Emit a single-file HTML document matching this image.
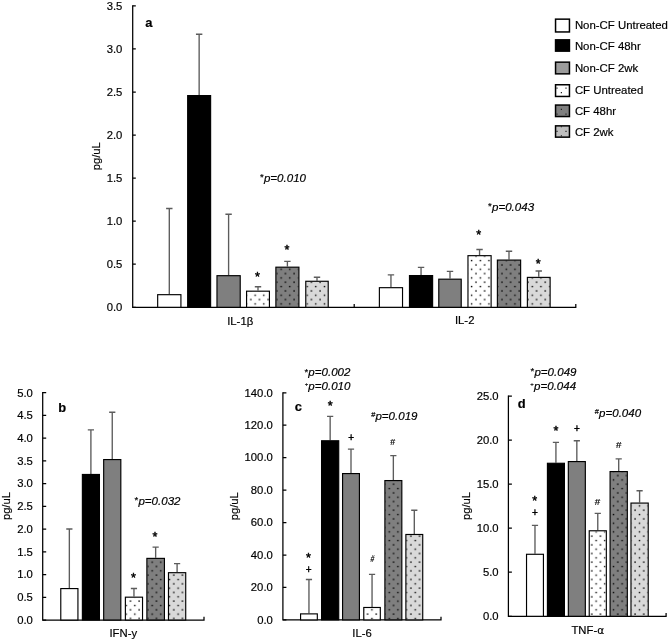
<!DOCTYPE html>
<html lang="en">
<head>
<meta charset="utf-8">
<title>Cytokine levels</title>
<style>
html,body{margin:0;padding:0;background:#fff;}
body{width:668px;height:641px;overflow:hidden;}
svg{display:block;}
text{font-family:"Liberation Sans",sans-serif;font-size:11.3px;fill:#000;stroke:#000;stroke-width:0.18px;}
text.b{font-weight:bold;font-size:12.9px;fill:#000;}
text.it{font-style:italic;font-size:11.55px;}
text.ma{font-size:9.6px;}
text.mp{font-size:6px;}
text.mh{font-size:7.4px;}
text.ast{font-size:12.6px;stroke:#000;stroke-width:0.45px;}
text.tl{font-size:11.28px;}
text.at{font-size:11.2px;}
text.lg{font-size:11.4px;}
text.hash2{font-size:8.8px;}
tspan.al{font-family:"DejaVu Sans",sans-serif;font-size:10.6px;}
text.plus{font-size:10px;stroke:#000;stroke-width:0.4px;}
text.hash{font-size:9.8px;stroke:#000;stroke-width:0.2px;}
</style>
</head>
<body>
<svg width="668" height="641" viewBox="0 0 668 641">
<rect width="668" height="641" fill="#fff"/>
<defs><pattern id="dotsa" width="8.66" height="8.66" patternUnits="userSpaceOnUse" patternTransform="translate(274.80 271.60)"><rect x="1.300" y="1.300" width="1.4" height="1.4" fill="#000"/><rect x="5.630" y="5.630" width="1.4" height="1.4" fill="#000"/></pattern><pattern id="dotsb" width="8.66" height="8.66" patternUnits="userSpaceOnUse" patternTransform="translate(128.50 599.15)"><rect x="1.300" y="1.300" width="1.4" height="1.4" fill="#000"/><rect x="5.630" y="5.630" width="1.4" height="1.4" fill="#000"/></pattern><pattern id="dotsc" width="8.66" height="8.66" patternUnits="userSpaceOnUse" patternTransform="translate(365.60 612.15)"><rect x="1.300" y="1.300" width="1.4" height="1.4" fill="#000"/><rect x="5.630" y="5.630" width="1.4" height="1.4" fill="#000"/></pattern><pattern id="dotsd" width="8.66" height="8.66" patternUnits="userSpaceOnUse" patternTransform="translate(589.80 612.15)"><rect x="1.300" y="1.300" width="1.4" height="1.4" fill="#000"/><rect x="5.630" y="5.630" width="1.4" height="1.4" fill="#000"/></pattern></defs>
<path d="M132.70 5.28V307.30H575.80V304.10" stroke="#000" stroke-width="1.25" fill="none" stroke-linejoin="miter"/><path d="M132.70 307.30h3.1M132.70 264.24h3.1M132.70 221.19h3.1M132.70 178.13h3.1M132.70 135.07h3.1M132.70 92.01h3.1M132.70 48.96h3.1M132.70 5.90h3.1M354.20 307.30v-3.2" stroke="#000" stroke-width="1.25" fill="none"/>
<text x="122.40" y="311.10" text-anchor="end" class="tl" >0.0</text><text x="122.40" y="268.04" text-anchor="end" class="tl" >0.5</text><text x="122.40" y="224.99" text-anchor="end" class="tl" >1.0</text><text x="122.40" y="181.93" text-anchor="end" class="tl" >1.5</text><text x="122.40" y="138.87" text-anchor="end" class="tl" >2.0</text><text x="122.40" y="95.81" text-anchor="end" class="tl" >2.5</text><text x="122.40" y="52.76" text-anchor="end" class="tl" >3.0</text><text x="122.40" y="9.70" text-anchor="end" class="tl" >3.5</text>
<path d="M169.30 294.10V208.50M166.10 208.50H172.50" stroke="#5c5c5c" stroke-width="1.35" fill="none"/><rect x="157.67" y="294.68" width="23.25" height="12.62" fill="#ffffff" stroke="#000" stroke-width="1.15"/>
<path d="M199.15 95.00V34.20M195.95 34.20H202.35" stroke="#5c5c5c" stroke-width="1.35" fill="none"/><rect x="187.67" y="95.58" width="22.95" height="211.73" fill="#000000" stroke="#000" stroke-width="1.15"/>
<path d="M228.60 275.10V214.20M225.40 214.20H231.80" stroke="#5c5c5c" stroke-width="1.35" fill="none"/><rect x="216.97" y="275.68" width="23.25" height="31.62" fill="#7f7f7f" stroke="#000" stroke-width="1.15"/>
<path d="M258.00 290.60V286.70M254.80 286.70H261.20" stroke="#5c5c5c" stroke-width="1.35" fill="none"/><rect x="246.57" y="291.18" width="22.85" height="16.12" fill="#ffffff" stroke="#000" stroke-width="1.15"/><rect x="247.15" y="291.75" width="21.70" height="15.55" fill="url(#dotsa)"/>
<path d="M287.40 266.60V261.40M284.20 261.40H290.60" stroke="#5c5c5c" stroke-width="1.35" fill="none"/><rect x="275.88" y="267.18" width="23.05" height="40.12" fill="#7f7f7f" stroke="#000" stroke-width="1.15"/><rect x="276.45" y="267.75" width="21.90" height="39.55" fill="url(#dotsa)"/>
<path d="M317.00 280.70V277.20M313.80 277.20H320.20" stroke="#5c5c5c" stroke-width="1.35" fill="none"/><rect x="305.77" y="281.27" width="22.45" height="26.03" fill="#d9d9d9" stroke="#000" stroke-width="1.15"/><rect x="306.35" y="281.85" width="21.30" height="25.45" fill="url(#dotsa)"/>
<path d="M390.95 287.10V274.90M387.75 274.90H394.15" stroke="#5c5c5c" stroke-width="1.35" fill="none"/><rect x="379.38" y="287.68" width="23.15" height="19.62" fill="#ffffff" stroke="#000" stroke-width="1.15"/>
<path d="M421.05 275.00V267.40M417.85 267.40H424.25" stroke="#5c5c5c" stroke-width="1.35" fill="none"/><rect x="409.47" y="275.57" width="23.15" height="31.73" fill="#000000" stroke="#000" stroke-width="1.15"/>
<path d="M450.00 278.60V271.40M446.80 271.40H453.20" stroke="#5c5c5c" stroke-width="1.35" fill="none"/><rect x="438.77" y="279.18" width="22.45" height="28.12" fill="#7f7f7f" stroke="#000" stroke-width="1.15"/>
<path d="M479.55 255.10V249.50M476.35 249.50H482.75" stroke="#5c5c5c" stroke-width="1.35" fill="none"/><rect x="467.97" y="255.67" width="23.15" height="51.63" fill="#ffffff" stroke="#000" stroke-width="1.15"/><rect x="468.55" y="256.25" width="22.00" height="51.05" fill="url(#dotsa)"/>
<path d="M509.00 259.50V251.20M505.80 251.20H512.20" stroke="#5c5c5c" stroke-width="1.35" fill="none"/><rect x="497.38" y="260.07" width="23.25" height="47.23" fill="#7f7f7f" stroke="#000" stroke-width="1.15"/><rect x="497.95" y="260.65" width="22.10" height="46.65" fill="url(#dotsa)"/>
<path d="M538.75 276.80V271.00M535.55 271.00H541.95" stroke="#5c5c5c" stroke-width="1.35" fill="none"/><rect x="527.38" y="277.38" width="22.75" height="29.93" fill="#d9d9d9" stroke="#000" stroke-width="1.15"/><rect x="527.95" y="277.95" width="21.60" height="29.35" fill="url(#dotsa)"/>
<text x="145.30" y="26.50" text-anchor="start" class="b" >a</text>
<text x="100.00" y="156.30" text-anchor="middle" class="at" transform="rotate(-90 100.0 156.3)">pg/uL</text>
<text x="240.20" y="324.70" text-anchor="middle" class="" >IL-1β</text>
<text x="464.70" y="324.40" text-anchor="middle" class="" >IL-2</text>
<text x="263.75" y="180.00" text-anchor="end" class="ma">*</text><text x="263.95" y="181.80" class="it">p=0.010</text>
<text x="491.80" y="209.25" text-anchor="end" class="ma">*</text><text x="492.00" y="211.05" class="it">p=0.043</text>
<text x="257.50" y="280.60" text-anchor="middle" class="ast" >*</text>
<text x="287.05" y="254.25" text-anchor="middle" class="ast" >*</text>
<text x="478.80" y="238.70" text-anchor="middle" class="ast" >*</text>
<text x="538.20" y="267.50" text-anchor="middle" class="ast" >*</text>
<rect x="555.55" y="19.15" width="13.90" height="12.80" fill="#ffffff" stroke="#000" stroke-width="1.5"/>
<text x="574.90" y="29.30" text-anchor="start" class="lg" >Non-CF Untreated</text>
<rect x="555.55" y="39.85" width="13.90" height="11.30" fill="#000000" stroke="#000" stroke-width="1.5"/>
<text x="574.90" y="50.40" text-anchor="start" class="lg" >Non-CF 48hr</text>
<rect x="555.55" y="62.15" width="13.90" height="11.70" fill="#9c9c9c" stroke="#000" stroke-width="1.5"/>
<text x="574.90" y="72.40" text-anchor="start" class="lg" >Non-CF 2wk</text>
<rect x="555.55" y="84.75" width="13.90" height="11.70" fill="#ffffff" stroke="#000" stroke-width="1.5"/>
<path d="M560.80 92.00h1.2v1.2h-1.2zM565.40 87.60h1.2v1.2h-1.2zM556.40 87.60h1.2v1.2h-1.2z" fill="#222"/>
<text x="574.90" y="94.20" text-anchor="start" class="lg" >CF Untreated</text>
<rect x="555.55" y="105.05" width="13.90" height="11.50" fill="#7f7f7f" stroke="#000" stroke-width="1.5"/>
<path d="M560.80 108.80h1.2v1.2h-1.2zM565.40 113.60h1.2v1.2h-1.2zM556.40 113.60h1.2v1.2h-1.2z" fill="#222"/>
<text x="574.90" y="114.70" text-anchor="start" class="lg" >CF 48hr</text>
<rect x="555.55" y="125.85" width="13.90" height="11.30" fill="#bfbfbf" stroke="#000" stroke-width="1.5"/>
<path d="M560.80 126.00h1.2v1.2h-1.2zM565.40 130.80h1.2v1.2h-1.2zM556.40 130.80h1.2v1.2h-1.2zM560.80 135.30h1.2v1.2h-1.2z" fill="#222"/>
<text x="574.90" y="135.70" text-anchor="start" class="lg" >CF 2wk</text>
<path d="M42.70 392.07V620.00H204.00V616.80" stroke="#000" stroke-width="1.25" fill="none" stroke-linejoin="miter"/><path d="M42.70 620.00h3.5M42.70 597.27h3.5M42.70 574.54h3.5M42.70 551.81h3.5M42.70 529.08h3.5M42.70 506.35h3.5M42.70 483.62h3.5M42.70 460.89h3.5M42.70 438.16h3.5M42.70 415.43h3.5M42.70 392.70h3.5" stroke="#000" stroke-width="1.25" fill="none"/>
<text x="32.90" y="623.80" text-anchor="end" class="tl" >0.0</text><text x="32.90" y="601.07" text-anchor="end" class="tl" >0.5</text><text x="32.90" y="578.34" text-anchor="end" class="tl" >1.0</text><text x="32.90" y="555.61" text-anchor="end" class="tl" >1.5</text><text x="32.90" y="532.88" text-anchor="end" class="tl" >2.0</text><text x="32.90" y="510.15" text-anchor="end" class="tl" >2.5</text><text x="32.90" y="487.42" text-anchor="end" class="tl" >3.0</text><text x="32.90" y="464.69" text-anchor="end" class="tl" >3.5</text><text x="32.90" y="441.96" text-anchor="end" class="tl" >4.0</text><text x="32.90" y="419.23" text-anchor="end" class="tl" >4.5</text><text x="32.90" y="396.50" text-anchor="end" class="tl" >5.0</text>
<path d="M69.35 588.00V529.00M66.25 529.00H72.45" stroke="#5c5c5c" stroke-width="1.35" fill="none"/><rect x="60.78" y="588.58" width="17.15" height="31.43" fill="#ffffff" stroke="#000" stroke-width="1.15"/>
<path d="M90.90 473.90V429.80M87.80 429.80H94.00" stroke="#5c5c5c" stroke-width="1.35" fill="none"/><rect x="82.38" y="474.47" width="17.05" height="145.53" fill="#000000" stroke="#000" stroke-width="1.15"/>
<path d="M112.25 459.00V412.20M109.15 412.20H115.35" stroke="#5c5c5c" stroke-width="1.35" fill="none"/><rect x="103.67" y="459.57" width="17.15" height="160.43" fill="#7f7f7f" stroke="#000" stroke-width="1.15"/>
<path d="M133.95 596.60V588.50M130.85 588.50H137.05" stroke="#5c5c5c" stroke-width="1.35" fill="none"/><rect x="125.38" y="597.18" width="17.15" height="22.82" fill="#ffffff" stroke="#000" stroke-width="1.15"/><rect x="125.95" y="597.75" width="16.00" height="22.25" fill="url(#dotsb)"/>
<path d="M155.65 557.80V547.10M152.55 547.10H158.75" stroke="#5c5c5c" stroke-width="1.35" fill="none"/><rect x="146.88" y="558.38" width="17.55" height="61.63" fill="#7f7f7f" stroke="#000" stroke-width="1.15"/><rect x="147.45" y="558.95" width="16.40" height="61.05" fill="url(#dotsb)"/>
<path d="M177.10 572.10V563.60M174.00 563.60H180.20" stroke="#5c5c5c" stroke-width="1.35" fill="none"/><rect x="168.47" y="572.68" width="17.25" height="47.32" fill="#d9d9d9" stroke="#000" stroke-width="1.15"/><rect x="169.05" y="573.25" width="16.10" height="46.75" fill="url(#dotsb)"/>
<text x="58.20" y="412.20" text-anchor="start" class="b" >b</text>
<text x="10.10" y="506.10" text-anchor="middle" class="at" transform="rotate(-90 10.1 506.1)">pg/uL</text>
<text x="123.30" y="636.80" text-anchor="middle" class="" >IFN-y</text>
<text x="138.25" y="503.05" text-anchor="end" class="ma">*</text><text x="138.45" y="504.85" class="it">p=0.032</text>
<text x="133.40" y="582.10" text-anchor="middle" class="ast" >*</text>
<text x="154.95" y="541.20" text-anchor="middle" class="ast" >*</text>
<path d="M282.90 392.18V619.90H441.00V616.70" stroke="#000" stroke-width="1.25" fill="none" stroke-linejoin="miter"/><path d="M282.90 619.90h3.5M282.90 587.46h3.5M282.90 555.01h3.5M282.90 522.57h3.5M282.90 490.13h3.5M282.90 457.69h3.5M282.90 425.24h3.5M282.90 392.80h3.5" stroke="#000" stroke-width="1.25" fill="none"/>
<text x="272.80" y="623.70" text-anchor="end" class="tl" >0.0</text><text x="272.80" y="591.26" text-anchor="end" class="tl" >20.0</text><text x="272.80" y="558.81" text-anchor="end" class="tl" >40.0</text><text x="272.80" y="526.37" text-anchor="end" class="tl" >60.0</text><text x="272.80" y="493.93" text-anchor="end" class="tl" >80.0</text><text x="272.80" y="461.49" text-anchor="end" class="tl" >100.0</text><text x="272.80" y="429.04" text-anchor="end" class="tl" >120.0</text><text x="272.80" y="396.60" text-anchor="end" class="tl" >140.0</text>
<path d="M308.95 613.30V579.50M305.85 579.50H312.05" stroke="#5c5c5c" stroke-width="1.35" fill="none"/><rect x="300.57" y="613.88" width="16.75" height="6.03" fill="#ffffff" stroke="#000" stroke-width="1.15"/>
<path d="M330.15 440.20V416.40M327.05 416.40H333.25" stroke="#5c5c5c" stroke-width="1.35" fill="none"/><rect x="321.57" y="440.77" width="17.15" height="179.12" fill="#000000" stroke="#000" stroke-width="1.15"/>
<path d="M351.00 473.00V449.10M347.90 449.10H354.10" stroke="#5c5c5c" stroke-width="1.35" fill="none"/><rect x="342.57" y="473.57" width="16.85" height="146.32" fill="#7f7f7f" stroke="#000" stroke-width="1.15"/>
<path d="M372.05 606.90V574.40M368.95 574.40H375.15" stroke="#5c5c5c" stroke-width="1.35" fill="none"/><rect x="363.77" y="607.48" width="16.55" height="12.43" fill="#ffffff" stroke="#000" stroke-width="1.15"/><rect x="364.35" y="608.05" width="15.40" height="11.85" fill="url(#dotsc)"/>
<path d="M393.35 480.00V455.60M390.25 455.60H396.45" stroke="#5c5c5c" stroke-width="1.35" fill="none"/><rect x="384.88" y="480.57" width="16.95" height="139.32" fill="#7f7f7f" stroke="#000" stroke-width="1.15"/><rect x="385.45" y="481.15" width="15.80" height="138.75" fill="url(#dotsc)"/>
<path d="M414.30 533.90V510.20M411.20 510.20H417.40" stroke="#5c5c5c" stroke-width="1.35" fill="none"/><rect x="405.88" y="534.48" width="16.85" height="85.42" fill="#d9d9d9" stroke="#000" stroke-width="1.15"/><rect x="406.45" y="535.05" width="15.70" height="84.85" fill="url(#dotsc)"/>
<text x="294.80" y="410.70" text-anchor="start" class="b" >c</text>
<text x="238.30" y="506.20" text-anchor="middle" class="at" transform="rotate(-90 238.3 506.2)">pg/uL</text>
<text x="362.00" y="636.80" text-anchor="middle" class="" >IL-6</text>
<text x="308.15" y="374.50" text-anchor="end" class="ma">*</text><text x="308.35" y="376.30" class="it">p=0.002</text>
<text x="308.15" y="386.20" text-anchor="end" class="mp">+</text><text x="308.35" y="390.10" class="it">p=0.010</text>
<text x="375.25" y="416.70" text-anchor="end" class="mh">#</text><text x="375.45" y="419.70" class="it">p=0.019</text>
<text x="330.20" y="410.10" text-anchor="middle" class="ast" >*</text>
<text x="351.10" y="441.20" text-anchor="middle" class="plus" >+</text>
<text x="392.60" y="445.10" text-anchor="middle" class="hash2" >#</text>
<text x="308.50" y="561.90" text-anchor="middle" class="ast" >*</text>
<text x="308.70" y="573.00" text-anchor="middle" class="plus" >+</text>
<text transform="translate(372.00 562.10) scale(0.68 1) skewX(-10)" text-anchor="middle" class="hash">#</text>
<path d="M508.40 395.38V616.30H666.10V613.10" stroke="#000" stroke-width="1.25" fill="none" stroke-linejoin="miter"/><path d="M508.40 616.30h3.5M508.40 572.24h3.5M508.40 528.18h3.5M508.40 484.12h3.5M508.40 440.06h3.5M508.40 396.00h3.5" stroke="#000" stroke-width="1.25" fill="none"/>
<text x="498.60" y="620.10" text-anchor="end" class="tl" >0.0</text><text x="498.60" y="576.04" text-anchor="end" class="tl" >5.0</text><text x="498.60" y="531.98" text-anchor="end" class="tl" >10.0</text><text x="498.60" y="487.92" text-anchor="end" class="tl" >15.0</text><text x="498.60" y="443.86" text-anchor="end" class="tl" >20.0</text><text x="498.60" y="399.80" text-anchor="end" class="tl" >25.0</text>
<path d="M534.98 553.70V525.40M531.88 525.40H538.08" stroke="#5c5c5c" stroke-width="1.35" fill="none"/><rect x="526.53" y="554.28" width="16.90" height="62.02" fill="#ffffff" stroke="#000" stroke-width="1.15"/>
<path d="M555.92 462.70V442.30M552.82 442.30H559.02" stroke="#5c5c5c" stroke-width="1.35" fill="none"/><rect x="547.43" y="463.27" width="17.00" height="153.02" fill="#000000" stroke="#000" stroke-width="1.15"/>
<path d="M576.83 461.00V440.70M573.73 440.70H579.93" stroke="#5c5c5c" stroke-width="1.35" fill="none"/><rect x="568.33" y="461.57" width="17.00" height="154.72" fill="#7f7f7f" stroke="#000" stroke-width="1.15"/>
<path d="M597.77 530.20V513.30M594.67 513.30H600.88" stroke="#5c5c5c" stroke-width="1.35" fill="none"/><rect x="589.23" y="530.78" width="17.10" height="85.52" fill="#ffffff" stroke="#000" stroke-width="1.15"/><rect x="589.80" y="531.35" width="15.95" height="84.95" fill="url(#dotsd)"/>
<path d="M618.70 471.00V458.80M615.60 458.80H621.80" stroke="#5c5c5c" stroke-width="1.35" fill="none"/><rect x="610.08" y="471.57" width="17.25" height="144.72" fill="#7f7f7f" stroke="#000" stroke-width="1.15"/><rect x="610.65" y="472.15" width="16.10" height="144.15" fill="url(#dotsd)"/>
<path d="M639.60 502.50V490.70M636.50 490.70H642.70" stroke="#5c5c5c" stroke-width="1.35" fill="none"/><rect x="630.98" y="503.07" width="17.25" height="113.22" fill="#d9d9d9" stroke="#000" stroke-width="1.15"/><rect x="631.55" y="503.65" width="16.10" height="112.65" fill="url(#dotsd)"/>
<text x="517.80" y="407.90" text-anchor="start" class="b" >d</text>
<text x="469.80" y="506.00" text-anchor="middle" class="at" transform="rotate(-90 469.8 506.0)">pg/uL</text>
<text x="587.80" y="634.40" text-anchor="middle" class="" >TNF-<tspan class="al">α</tspan></text>
<text x="534.25" y="373.80" text-anchor="end" class="ma">*</text><text x="534.45" y="375.60" class="it">p=0.049</text>
<text x="533.85" y="386.00" text-anchor="end" class="mp">+</text><text x="534.05" y="389.90" class="it">p=0.044</text>
<text x="598.85" y="414.00" text-anchor="end" class="mh">#</text><text x="599.05" y="417.00" class="it">p=0.040</text>
<text x="555.90" y="435.10" text-anchor="middle" class="ast" >*</text>
<text x="577.00" y="431.70" text-anchor="middle" class="plus" >+</text>
<text x="618.70" y="448.30" text-anchor="middle" class="hash" >#</text>
<text x="534.70" y="504.70" text-anchor="middle" class="ast" >*</text>
<text x="534.90" y="515.60" text-anchor="middle" class="plus" >+</text>
<text x="597.50" y="504.50" text-anchor="middle" class="hash" >#</text>
</svg>
</body>
</html>
